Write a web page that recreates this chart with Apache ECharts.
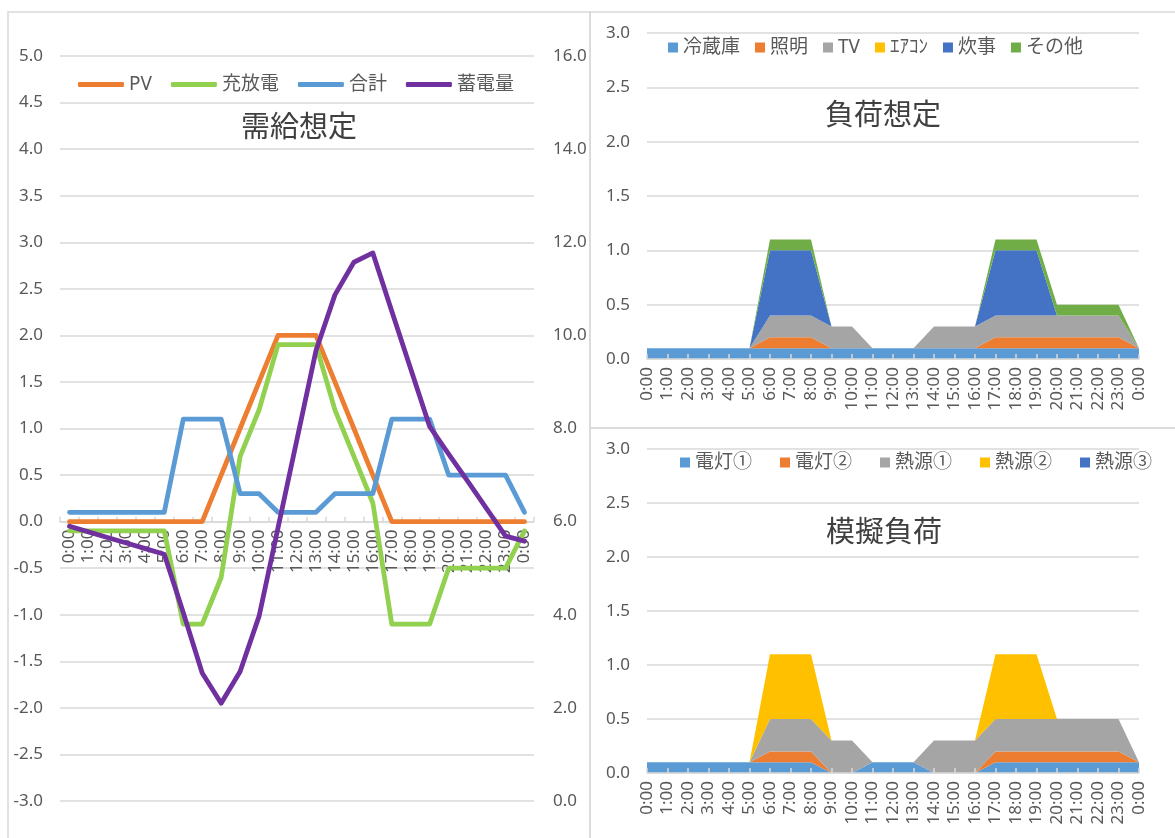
<!DOCTYPE html>
<html>
<head>
<meta charset="utf-8">
<script src="https://cdn.jsdelivr.net/npm/echarts@6/dist/echarts.min.js"></script>
<style>
  html, body { margin: 0; padding: 0; background: #fff; }
  #chart { width: 1175px; height: 838px; }
</style>
</head>
<body>
<div id="chart"></div>
<script>
// Hourly categories (the day wraps back to 0:00)
const hours = ['0:00','1:00','2:00','3:00','4:00','5:00','6:00','7:00','8:00','9:00','10:00','11:00',
  '12:00','13:00','14:00','15:00','16:00','17:00','18:00','19:00','20:00','21:00','22:00','23:00','0:00'];

// 需給想定 (kW, left axis) and 蓄電量 (kWh, right axis)
const pv      = [0,0,0,0,0,0,0,0,0.5,1.0,1.5,2.0,2.0,2.0,1.5,1.0,0.5,0,0,0,0,0,0,0,0];
const charge  = [-0.1,-0.1,-0.1,-0.1,-0.1,-0.1,-1.1,-1.1,-0.6,0.7,1.2,1.9,1.9,1.9,1.2,0.7,0.2,-1.1,-1.1,-1.1,-0.5,-0.5,-0.5,-0.5,-0.1];
const total   = [0.1,0.1,0.1,0.1,0.1,0.1,1.1,1.1,1.1,0.3,0.3,0.1,0.1,0.1,0.3,0.3,0.3,1.1,1.1,1.1,0.5,0.5,0.5,0.5,0.1];
const stored  = [5.9,5.78,5.66,5.54,5.42,5.3,4.05,2.75,2.1,2.78,3.97,5.87,7.77,9.67,10.87,11.57,11.77,10.52,9.28,8.04,7.45,6.87,6.28,5.69,5.58];

// 負荷想定 (stacked)
const fridge   = [0.1,0.1,0.1,0.1,0.1,0.1,0.1,0.1,0.1,0.1,0.1,0.1,0.1,0.1,0.1,0.1,0.1,0.1,0.1,0.1,0.1,0.1,0.1,0.1,0.1];
const lighting = [0,0,0,0,0,0,0.1,0.1,0.1,0,0,0,0,0,0,0,0,0.1,0.1,0.1,0.1,0.1,0.1,0.1,0];
const tv       = [0,0,0,0,0,0,0.2,0.2,0.2,0.2,0.2,0,0,0,0.2,0.2,0.2,0.2,0.2,0.2,0.2,0.2,0.2,0.2,0];
const aircon   = [0,0,0,0,0,0,0,0,0,0,0,0,0,0,0,0,0,0,0,0,0,0,0,0,0];
const cooking  = [0,0,0,0,0,0,0.6,0.6,0.6,0,0,0,0,0,0,0,0,0.6,0.6,0.6,0,0,0,0,0];
const other    = [0,0,0,0,0,0,0.1,0.1,0.1,0,0,0,0,0,0,0,0,0.1,0.1,0.1,0.1,0.1,0.1,0.1,0];

// 模擬負荷 (stacked)
const light1 = [0.1,0.1,0.1,0.1,0.1,0.1,0.1,0.1,0.1,0,0,0.1,0.1,0.1,0,0,0,0.1,0.1,0.1,0.1,0.1,0.1,0.1,0.1];
const light2 = [0,0,0,0,0,0,0.1,0.1,0.1,0,0,0,0,0,0,0,0,0.1,0.1,0.1,0.1,0.1,0.1,0.1,0];
const heat1  = [0,0,0,0,0,0,0.3,0.3,0.3,0.3,0.3,0,0,0,0.3,0.3,0.3,0.3,0.3,0.3,0.3,0.3,0.3,0.3,0];
const heat2  = [0,0,0,0,0,0,0.6,0.6,0.6,0,0,0,0,0,0,0,0,0.6,0.6,0.6,0,0,0,0,0];
const heat3  = [0,0,0,0,0,0,0,0,0,0,0,0,0,0,0,0,0,0,0,0,0,0,0,0,0];

const FONT = '"Noto Sans", "Noto Sans CJK JP", sans-serif';
const LABEL = '#595959';
const GRIDLINE = '#d9d9d9';

// left panel value range; the hour axis sits on the zero line
const LEFT_MIN = -3, LEFT_MAX = 5, LEFT_H = 745;
const zeroOffset = -LEFT_H * (0 - LEFT_MIN) / (LEFT_MAX - LEFT_MIN);

const chart = echarts.init(document.getElementById('chart'), null, { renderer: 'canvas' });

function catAxis(gridIndex, gap, extra) {
  return Object.assign({
    type: 'category', gridIndex: gridIndex, data: hours, boundaryGap: gap, position: 'bottom',
    axisLine: { show: true, onZero: false, lineStyle: { color: GRIDLINE, width: 1.5 } },
    axisTick: { show: true, inside: true, length: 5, lineStyle: { color: GRIDLINE, width: 1.5 } },
    axisLabel: { interval: 0, rotate: 90, margin: 8, fontSize: 17, color: LABEL, fontFamily: FONT },
    splitLine: { show: false }
  }, extra || {});
}

function valAxis(gridIndex, min, max, interval, pos, grid, margin) {
  return {
    type: 'value', gridIndex: gridIndex, min: min, max: max, interval: interval, position: pos,
    axisLine: { show: false }, axisTick: { show: false },
    axisLabel: { fontSize: 17, color: LABEL, fontFamily: FONT, margin: margin,
      formatter: v => v.toFixed(1) },
    splitLine: { show: grid, lineStyle: { color: GRIDLINE, width: 1.5 } }
  };
}

function lineSeries(name, data, color, yIdx) {
  return {
    name: name, type: 'line', data: data, xAxisIndex: 0, yAxisIndex: yIdx,
    symbol: 'none', smooth: false,
    lineStyle: { color: color, width: 4.8, cap: 'round', join: 'round' },
    itemStyle: { color: color }
  };
}

function areaSeries(name, data, color, xIdx, yIdx, stack) {
  return {
    name: name, type: 'line', data: data, xAxisIndex: xIdx, yAxisIndex: yIdx, stack: stack,
    symbol: 'none', smooth: false,
    lineStyle: { width: 0, color: color },
    areaStyle: { color: color, opacity: 1 },
    itemStyle: { color: color }
  };
}

const legendText = { fontSize: 19, color: LABEL, fontFamily: FONT };

const option = {
  backgroundColor: '#ffffff',
  animation: false,
  grid: [
    { left: 60, top: 56, width: 474, height: LEFT_H, outerBoundsMode: 'none', containLabel: false },
    { left: 647, top: 33, width: 492, height: 326, outerBoundsMode: 'none', containLabel: false },
    { left: 647, top: 449, width: 492, height: 324, outerBoundsMode: 'none', containLabel: false }
  ],
  xAxis: [
    catAxis(0, true, { offset: zeroOffset }),
    catAxis(1, false, { z: 5 }),
    catAxis(2, false, { z: 5 })
  ],
  yAxis: [
    valAxis(0, LEFT_MIN, LEFT_MAX, 0.5, 'left', true, 17),
    valAxis(0, 0, 16, 2, 'right', false, 19),
    valAxis(1, 0, 3, 0.5, 'left', true, 17),
    valAxis(2, 0, 3, 0.5, 'left', true, 17)
  ],
  legend: [
    { data: ['PV', '充放電', '合計', '蓄電量'], left: 78, top: 75, padding: 0, icon: 'roundRect',
      itemWidth: 46, itemHeight: 5, itemGap: 19, textStyle: legendText },
    { data: ['冷蔵庫', '照明', 'TV', 'ｴｱｺﾝ', '炊事', 'その他'], left: 668, top: 38, padding: 0, icon: 'rect',
      itemWidth: 10, itemHeight: 10, itemGap: 15, textStyle: legendText },
    { data: ['電灯①', '電灯②', '熱源①', '熱源②', '熱源③'], left: 680, top: 453, padding: 0, icon: 'rect',
      itemWidth: 10, itemHeight: 10, itemGap: 28, textStyle: legendText }
  ],
  graphic: [
    { type: 'rect', shape: { x: 8, y: 12, width: 582, height: 840 }, style: { fill: 'none', stroke: GRIDLINE, lineWidth: 1.5 }, silent: true, z: -1 },
    { type: 'rect', shape: { x: 590, y: 12, width: 600, height: 416 }, style: { fill: 'none', stroke: GRIDLINE, lineWidth: 1.5 }, silent: true, z: -1 },
    { type: 'rect', shape: { x: 590, y: 428, width: 600, height: 420 }, style: { fill: 'none', stroke: GRIDLINE, lineWidth: 1.5 }, silent: true, z: -1 },
    { type: 'text', x: 299, y: 126, style: { text: '需給想定', font: '29px "Noto Sans CJK JP", sans-serif', fill: '#404040', align: 'center', verticalAlign: 'middle' }, z: 10 },
    { type: 'text', x: 883, y: 114, style: { text: '負荷想定', font: '29px "Noto Sans CJK JP", sans-serif', fill: '#404040', align: 'center', verticalAlign: 'middle' }, z: 10 },
    { type: 'text', x: 884, y: 531, style: { text: '模擬負荷', font: '29px "Noto Sans CJK JP", sans-serif', fill: '#404040', align: 'center', verticalAlign: 'middle' }, z: 10 }
  ],
  series: [
    lineSeries('PV', pv, '#ED7D31', 0),
    lineSeries('充放電', charge, '#92D050', 0),
    lineSeries('合計', total, '#5B9BD5', 0),
    lineSeries('蓄電量', stored, '#7030A0', 1),

    areaSeries('冷蔵庫', fridge, '#5B9BD5', 1, 2, 'load'),
    areaSeries('照明', lighting, '#ED7D31', 1, 2, 'load'),
    areaSeries('TV', tv, '#A5A5A5', 1, 2, 'load'),
    areaSeries('ｴｱｺﾝ', aircon, '#FFC000', 1, 2, 'load'),
    areaSeries('炊事', cooking, '#4472C4', 1, 2, 'load'),
    areaSeries('その他', other, '#70AD47', 1, 2, 'load'),

    areaSeries('電灯①', light1, '#5B9BD5', 2, 3, 'sim'),
    areaSeries('電灯②', light2, '#ED7D31', 2, 3, 'sim'),
    areaSeries('熱源①', heat1, '#A5A5A5', 2, 3, 'sim'),
    areaSeries('熱源②', heat2, '#FFC000', 2, 3, 'sim'),
    areaSeries('熱源③', heat3, '#4472C4', 2, 3, 'sim')
  ]
};

chart.setOption(option);
</script>
</body>
</html>
